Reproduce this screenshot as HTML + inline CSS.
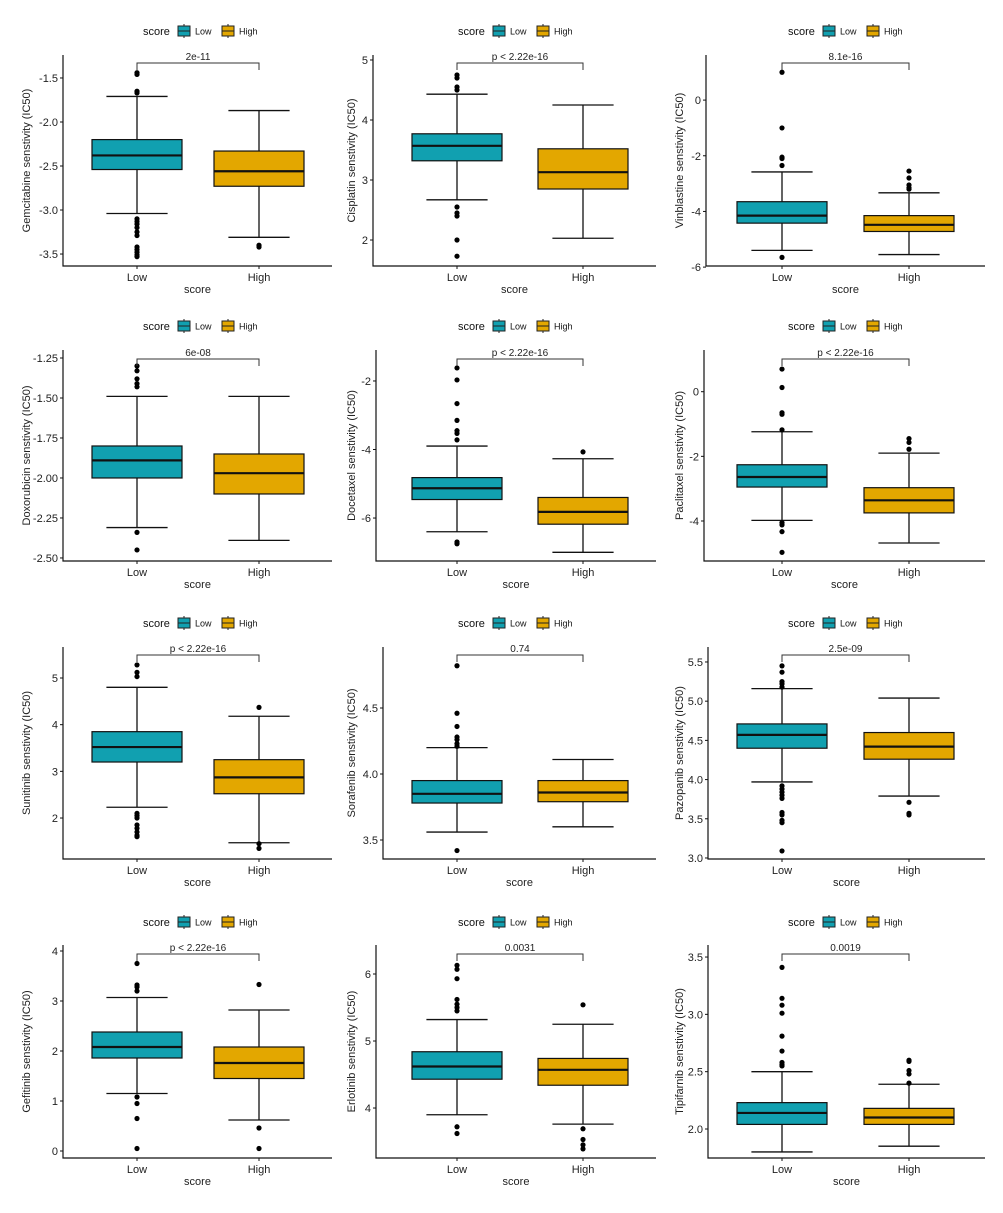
<!DOCTYPE html>
<html><head><meta charset="utf-8">
<style>
body{margin:0;background:#fff;}
svg{display:block;font-family:"Liberation Sans",Arial,sans-serif;}
</style></head>
<body>
<svg id="fig" width="1003" height="1213" viewBox="0 0 1003 1213"></svg>
<script>
const drugs=["Gemcitabine","Cisplatin","Vinblastine","Doxorubicin","Docetaxel","Paclitaxel","Sunitinib","Sorafenib","Pazopanib","Gefitinib","Erlotinib","Tipifarnib"];
const groups=["Low","High"];
const pLabels=["2e-11","p < 2.22e-16","8.1e-16","6e-08","p < 2.22e-16","p < 2.22e-16","p < 2.22e-16","0.74","2.5e-09","p < 2.22e-16","0.0031","0.0019"];
const domains=[[-3.636,-1.239],[1.567,5.083],[-5.96,1.62],[-2.519,-1.2],[-7.254,-1.096],[-5.238,1.29],[1.122,5.664],[3.356,4.962],[2.987,5.691],[-0.14,4.12],[3.254,6.433],[1.747,3.605]];
const tickVals=[[-1.5,-2,-2.5,-3,-3.5],[2,3,4,5],[0,-2,-4,-6],[-1.25,-1.5,-1.75,-2,-2.25,-2.5],[-2,-4,-6],[0,-2,-4],[2,3,4,5],[3.5,4,4.5],[3,3.5,4,4.5,5,5.5],[0,1,2,3,4],[4,5,6],[2,2.5,3,3.5]];
const tickLabels=[["-1.5","-2.0","-2.5","-3.0","-3.5"],["2","3","4","5"],["0","-2","-4","-6"],["-1.25","-1.50","-1.75","-2.00","-2.25","-2.50"],["-2","-4","-6"],["0","-2","-4"],["2","3","4","5"],["3.5","4.0","4.5"],["3.0","3.5","4.0","4.5","5.0","5.5"],["0","1","2","3","4"],["4","5","6"],["2.0","2.5","3.0","3.5"]];
// [lower whisker, q1, median, q3, upper whisker]
const lowStats=[[-3.04,-2.54,-2.38,-2.2,-1.71],[2.67,3.32,3.57,3.77,4.43],[-5.4,-4.42,-4.15,-3.65,-2.58],[-2.31,-2.0,-1.89,-1.8,-1.49],[-6.4,-5.46,-5.13,-4.82,-3.9],[-3.98,-2.95,-2.64,-2.26,-1.24],[2.23,3.2,3.52,3.85,4.8],[3.56,3.78,3.85,3.95,4.2],[3.97,4.4,4.57,4.71,5.16],[1.15,1.86,2.08,2.38,3.07],[3.9,4.43,4.62,4.84,5.32],[1.8,2.04,2.14,2.23,2.5]];
const highStats=[[-3.31,-2.73,-2.56,-2.33,-1.87],[2.03,2.85,3.13,3.52,4.25],[-5.55,-4.72,-4.48,-4.15,-3.33],[-2.39,-2.1,-1.97,-1.85,-1.49],[-7.0,-6.18,-5.82,-5.4,-4.27],[-4.68,-3.75,-3.36,-2.97,-1.9],[1.47,2.52,2.87,3.25,4.18],[3.6,3.79,3.86,3.95,4.11],[3.79,4.26,4.42,4.6,5.04],[0.62,1.45,1.76,2.08,2.82],[3.76,4.34,4.57,4.74,5.25],[1.85,2.04,2.1,2.18,2.39]];
const lowOutliers=[[-1.44,-1.46,-1.65,-1.67,-3.1,-3.13,-3.16,-3.2,-3.25,-3.29,-3.42,-3.45,-3.48,-3.51,-3.53],[4.75,4.7,4.55,4.5,2.55,2.45,2.4,2.0,1.73],[1.0,-1.0,-2.05,-2.1,-2.35,-5.65],[-1.3,-1.33,-1.38,-1.41,-1.43,-2.34,-2.45],[-1.62,-1.97,-2.66,-3.15,-3.45,-3.53,-3.72,-6.7,-6.75],[0.7,0.13,-0.65,-0.7,-1.18,-4.05,-4.12,-4.33,-4.97],[5.28,5.12,5.03,2.1,2.05,2.0,1.85,1.78,1.7,1.63,1.6],[4.82,4.46,4.36,4.28,4.26,4.23,4.21,3.42],[5.45,5.37,5.25,5.22,5.18,3.92,3.88,3.84,3.8,3.76,3.58,3.55,3.48,3.45,3.09],[3.75,3.32,3.28,3.2,1.08,0.95,0.65,0.05],[6.13,6.07,5.93,5.62,5.55,5.5,5.45,3.72,3.62],[3.41,3.14,3.08,3.01,2.81,2.68,2.58,2.56,2.55]];
const highOutliers=[[-3.4,-3.42],[],[-2.55,-2.8,-3.05,-3.15,-3.2],[],[-4.07],[-1.45,-1.57,-1.78],[4.37,1.45,1.35],[],[3.71,3.57,3.55],[3.33,0.46,0.05],[5.54,3.69,3.53,3.45,3.39],[2.6,2.59,2.51,2.48,2.4]];

const NS="http://www.w3.org/2000/svg";
const svg=document.getElementById('fig');
const panelAxisX=[63,373,706,63,376,704,63,383,708,63,376,708];
const colLowX=[137,457,782], colHighX=[259,583,909], colRightX=[332,656,985], colTitleX=[30,355,683], colLegX=[200,515,845];
const rowTop=[55,350,647,945], rowBottom=[266,561,859,1158], rowLegY=[31,326,623,922], rowBracketY=[63,359,655,954];
const fills=["#11A0B0","#E3A700"];
const HW=45;
function el(tag,attrs,parent){const e=document.createElementNS(NS,tag);for(const k in attrs)e.setAttribute(k,attrs[k]);(parent||svg).appendChild(e);return e;}
function txt(s,attrs,parent){const t=el('text',attrs,parent);t.textContent=s;return t;}

drugs.forEach((drug,i)=>{
  const c=i%3,r=Math.floor(i/3);
  const g=el('g',{});
  
  
  const top=rowTop[r],bot=rowBottom[r],ax=panelAxisX[i],rx=colRightX[c];
  const [d0,d1]=domains[i];
  const y=v=>bot-(v-d0)/(d1-d0)*(bot-top);
  const xs=[colLowX[c],colHighX[c]];
  const lg=el('g',{},g);
  
  
  const lx=colLegX[c]-57, ly=rowLegY[r];
  txt('score',{x:lx,y:ly+4,'font-size':11,fill:'#111'},lg);
  groups.forEach((gn,k)=>{
    const sx=lx+35+k*44;
    const e=el('g',{},lg);
    
    
    el('line',{x1:sx+6,x2:sx+6,y1:ly-7,y2:ly+7,stroke:'#222','stroke-width':1},e);
    el('rect',{x:sx,y:ly-5,width:12,height:10,fill:fills[k],stroke:'#222','stroke-width':1},e);
    el('line',{x1:sx,x2:sx+12,y1:ly,y2:ly,stroke:'#222','stroke-width':1},e);
    txt(gn,{x:sx+17,y:ly+3.5,'font-size':9,fill:'#111'},e);
  });
  const axl=el('path',{d:`M${ax},${top}V${bot}H${rx}`,fill:'none',stroke:'#111','stroke-width':1.2},g);
  
  
  tickVals[i].forEach((v,k)=>{
    const yy=y(v);
    el('line',{x1:ax-3,x2:ax,y1:yy,y2:yy,stroke:'#111','stroke-width':1},g);
    const t=txt(tickLabels[i][k],{x:ax-5,y:yy+4,'font-size':11,'text-anchor':'end',fill:'#222'},g);
    
    
  });
  groups.forEach((gn,k)=>{
    el('line',{x1:xs[k],x2:xs[k],y1:bot,y2:bot+3,stroke:'#111','stroke-width':1},g);
    const t=txt(gn,{x:xs[k],y:bot+15,'font-size':11,'text-anchor':'middle',fill:'#222'},g);
    
    
  });
  const xt=txt('score',{x:(ax+rx)/2,y:bot+27,'font-size':11,'text-anchor':'middle',fill:'#222'},g);
  
  
  const ty=(top+bot)/2;
  const yt=txt(drug+' senstivity (IC50)',{x:colTitleX[c],y:ty,'font-size':11,'text-anchor':'middle',fill:'#222',transform:`rotate(-90 ${colTitleX[c]} ${ty})`},g);
  
  
  [lowStats[i],highStats[i]].forEach((s,k)=>{
    const bx=el('g',{},g);
    
    
    const cx=xs[k];
    el('line',{x1:cx,x2:cx,y1:y(s[0]),y2:y(s[4]),stroke:'#111','stroke-width':1.3},bx);
    el('line',{x1:cx-HW*0.68,x2:cx+HW*0.68,y1:y(s[0]),y2:y(s[0]),stroke:'#111','stroke-width':1.3},bx);
    el('line',{x1:cx-HW*0.68,x2:cx+HW*0.68,y1:y(s[4]),y2:y(s[4]),stroke:'#111','stroke-width':1.3},bx);
    el('rect',{x:cx-HW,y:y(s[3]),width:2*HW,height:y(s[1])-y(s[3]),fill:fills[k],stroke:'#111','stroke-width':1.2},bx);
    el('line',{x1:cx-HW,x2:cx+HW,y1:y(s[2]),y2:y(s[2]),stroke:'#111','stroke-width':2.2},bx);
  });
  [lowOutliers[i],highOutliers[i]].forEach((arr,k)=>{
    arr.forEach(v=>{
      const p=el('circle',{cx:xs[k],cy:y(v),r:2.6,fill:'#000'},g);
      
      
    });
  });
  const by=rowBracketY[r];
  const br=el('path',{d:`M${xs[0]},${by+7}V${by}H${xs[1]}V${by+7}`,fill:'none',stroke:'#333','stroke-width':1},g);
  
  
  const pt=txt(pLabels[i],{x:(xs[0]+xs[1])/2,y:by-3,'font-size':10,'text-anchor':'middle',fill:'#222'},g);
  
  
});
</script>
</body></html>
